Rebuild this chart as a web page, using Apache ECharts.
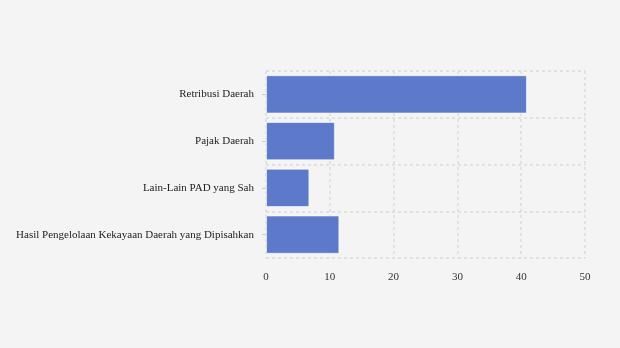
<!DOCTYPE html>
<html><head><meta charset="utf-8">
<script src="https://cdn.jsdelivr.net/npm/echarts@6/dist/echarts.min.js"></script>
<style>html,body{margin:0;padding:0;background:#f4f4f4}#c{width:620px;height:348px}</style>
</head><body><div id="c"></div>
<script>
var categories = ["Retribusi Daerah", "Pajak Daerah", "Lain-Lain PAD yang Sah", "Hasil Pengelolaan Kekayaan Daerah yang Dipisahkan"];
var values = [40.9, 10.8, 6.8, 11.5];
var xTicks = [0, 10, 20, 30, 40, 50];

var chart = echarts.init(document.getElementById('c'));
var dashStyle = {color: '#dadada', width: 1.5, type: [3, 3]};
chart.setOption({
  backgroundColor: '#f4f4f4',
  animation: false,
  grid: {left: 266, right: 35, top: 71, bottom: 90, containLabel: false},
  xAxis: {
    type: 'value', min: xTicks[0], max: xTicks[xTicks.length - 1], interval: 10,
    axisLine: {show: false}, axisTick: {show: false},
    axisLabel: {fontFamily: 'Liberation Serif', fontSize: 11, color: '#333', margin: 14},
    splitLine: {show: true, lineStyle: dashStyle}
  },
  yAxis: {
    type: 'category', data: categories, inverse: true,
    axisLine: {show: false},
    axisTick: {show: true, alignWithLabel: true, length: 4, lineStyle: {color: '#cccccc'}},
    axisLabel: {fontFamily: 'Liberation Serif', fontSize: 11, color: '#222', margin: 12},
    splitLine: {show: true, lineStyle: dashStyle}
  },
  series: [{
    type: 'bar', data: values, barCategoryGap: '18%',
    itemStyle: {color: '#5d79c9', borderColor: 'rgba(255,255,255,0.6)', borderWidth: 1}
  }]
});
</script></body></html>
